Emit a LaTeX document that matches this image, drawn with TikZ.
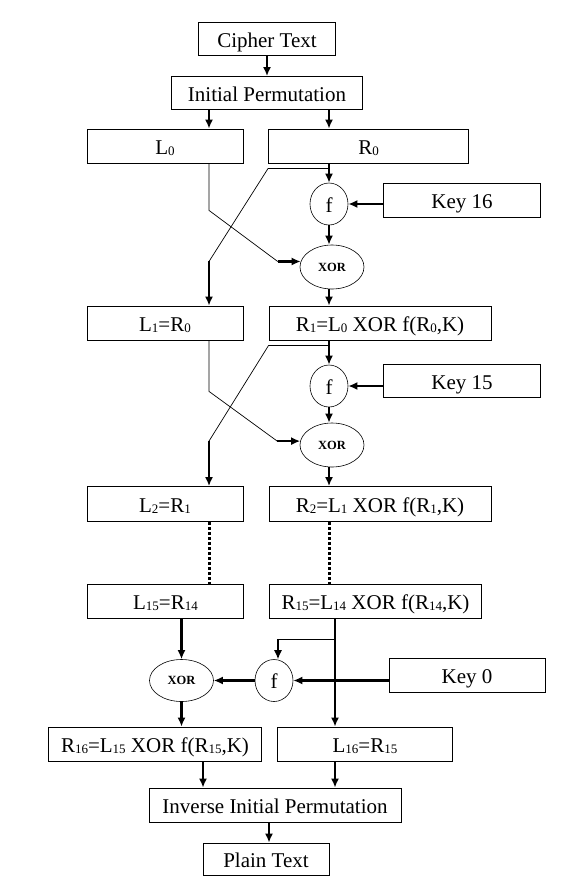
\documentclass[tikz,border=0pt]{standalone}
\usepackage{fontspec}
\setmainfont{Liberation Serif}
\usetikzlibrary{arrows.meta,positioning,shapes.geometric}
\newcommand{\idx}[1]{\raisebox{-1pt}{\fontsize{13}{13}\selectfont #1}}
\newcommand{\xortxt}{{\fontsize{12.5}{12}\selectfont\bfseries XOR}}

\begin{document}
\begin{tikzpicture}[x=1pt,y=-1pt,
  box/.style={draw,line width=0.8pt,inner sep=0pt,text height=16pt,text depth=0pt,font=\fontsize{21}{24}\selectfont},
  fnode/.style={draw,ellipse,line width=0.6pt,inner sep=0pt,text height=16pt,text depth=0pt,minimum width=38pt,minimum height=42pt,font=\fontsize{21}{24}\selectfont},
  xornode/.style={draw,ellipse,line width=0.6pt,inner sep=0pt,minimum width=64pt,minimum height=44pt},
  arr/.style={-{Latex[length=9pt,width=8pt]},line width=2.2pt},
  wire/.style={line width=0.7pt},
  dots/.style={line width=3pt,dash pattern=on 3pt off 2pt}]
  \useasboundingbox (0,0) rectangle (573,876);

  % columns of the connectors
  \coordinate (lc) at (209,0);
  \coordinate (rc) at (329,0);
  \coordinate (mc) at (335,0);

  \node[box,minimum width=137pt,minimum height=33pt] (ct) at (267,39) {Cipher Text};
  \node[box,minimum width=191pt,minimum height=33pt] (ip) at (267,93) {Initial Permutation};

  % round 1
  \node[box,minimum width=156pt,minimum height=34pt] (l0) at (165,146) {L\idx{0}};
  \node[box,minimum width=200pt,minimum height=34pt] (r0) at (368.5,146) {R\idx{0}};
  \node[fnode] (f1) at (329,204) {f};
  \node[box,minimum width=157pt,minimum height=34pt] (k16) at (462,200.5) {Key 16};
  \node[xornode] (x1) at (332,267) {\xortxt};
  \node[box,minimum width=156pt,minimum height=34pt] (l1) at (165,323) {L\idx{1}=R\idx{0}};
  \node[box,minimum width=222pt,minimum height=34pt] (r1) at (380,323) {R\idx{1}=L\idx{0} XOR f(R\idx{0},K)};

  % round 2
  \node[fnode] (f2) at (329,386) {f};
  \node[box,minimum width=157pt,minimum height=33pt] (k15) at (462,381) {Key 15};
  \node[xornode] (x2) at (332,445) {\xortxt};
  \node[box,minimum width=156pt,minimum height=35pt] (l2) at (165,504) {L\idx{2}=R\idx{1}};
  \node[box,minimum width=222pt,minimum height=35pt] (r2) at (380,504) {R\idx{2}=L\idx{1} XOR f(R\idx{1},K)};

  % round 16
  \node[box,minimum width=156pt,minimum height=34pt] (l15) at (165.5,601) {L\idx{15}=R\idx{14}};
  \node[box,minimum width=212pt,minimum height=34pt] (r15) at (375.5,601) {R\idx{15}=L\idx{14} XOR f(R\idx{14},K)};
  \node[xornode,minimum height=42pt] (x3) at (181.5,680.5) {\xortxt};
  \node[fnode] (f3) at (274,680.5) {f};
  \node[box,minimum width=156pt,minimum height=34pt] (k0) at (467,675.5) {Key 0};
  \node[box,minimum width=213pt,minimum height=34pt] (r16) at (155,744) {R\idx{16}=L\idx{15} XOR f(R\idx{15},K)};
  \node[box,minimum width=175pt,minimum height=34pt] (l16) at (365,744) {L\idx{16}=R\idx{15}};

  \node[box,minimum width=252pt,minimum height=34pt] (iip) at (275,805) {Inverse Initial Permutation};
  \node[box,minimum width=126pt,minimum height=32pt] (pt) at (266,859) {Plain Text};

  \draw[arr] (ct.south) -- (ip.north);
  \draw[arr] (ip.south -| lc) -- (l0.north -| lc);
  \draw[arr] (ip.south -| rc) -- (r0.north -| rc);

  \draw[arr] (r0.south -| rc) -- (f1.north);
  \draw[arr] (k16.west |- f1.east) -- (f1.east);
  \draw[arr] (f1.south) -- (x1.north -| rc);
  \draw[wire] (l0.south -| lc) -- ++(0,47) -- ([xshift=-23pt]x1.170);
  \draw[arr] ([xshift=-23pt]x1.170) -- (x1.170);
  \draw[wire] ([yshift=-5pt]r0.south -| rc) -- ([yshift=-5pt]r0.south west) -- (lc |- x1.170);
  \draw[arr] (lc |- x1.170) -- (l1.north -| lc);
  \draw[arr] (x1.south -| rc) -- (r1.north -| rc);

  \draw[arr] (r1.south -| rc) -- (f2.north);
  \draw[arr] (k15.west |- f2.east) -- (f2.east);
  \draw[arr] (f2.south) -- (x2.north -| rc);
  \draw[wire] (l1.south -| lc) -- ++(0,51) -- ([xshift=-23pt]x2.173);
  \draw[arr] ([xshift=-23pt]x2.173) -- (x2.173);
  \draw[wire] ([yshift=-5pt]r1.south -| rc) -- ([yshift=-5pt]r1.south west) -- (lc |- x2.173);
  \draw[arr] (lc |- x2.173) -- (l2.north -| lc);
  \draw[arr] (x2.south -| rc) -- (r2.north -| rc);

  \draw[dots] (l2.south -| lc) -- (l15.north -| lc);
  \draw[dots] (r2.south -| rc) -- (r15.north -| rc);

  \draw[arr] (l15.south -| x3) -- (x3.north);
  \draw[arr] (r15.south -| mc) -- (l16.north -| mc);
  \draw[arr,line width=1.2pt] ([yshift=-21pt]r15.south -| mc) -| ([xshift=4pt]f3.north);
  \draw[arr] (k0.west |- f3.east) -- (f3.east);
  \draw[arr] (f3.west) -- (x3.east);
  \draw[arr] (x3.south) -- (r16.north -| x3);

  \draw[arr] ([xshift=48pt]r16.south) -- ([xshift=48pt]r16.south |- iip.north);
  \draw[arr] (l16.south -| mc) -- (iip.north -| mc);
  \draw[arr] ([xshift=-6pt]iip.south) -- ([xshift=-6pt]iip.south |- pt.north);
\end{tikzpicture}
\end{document}
